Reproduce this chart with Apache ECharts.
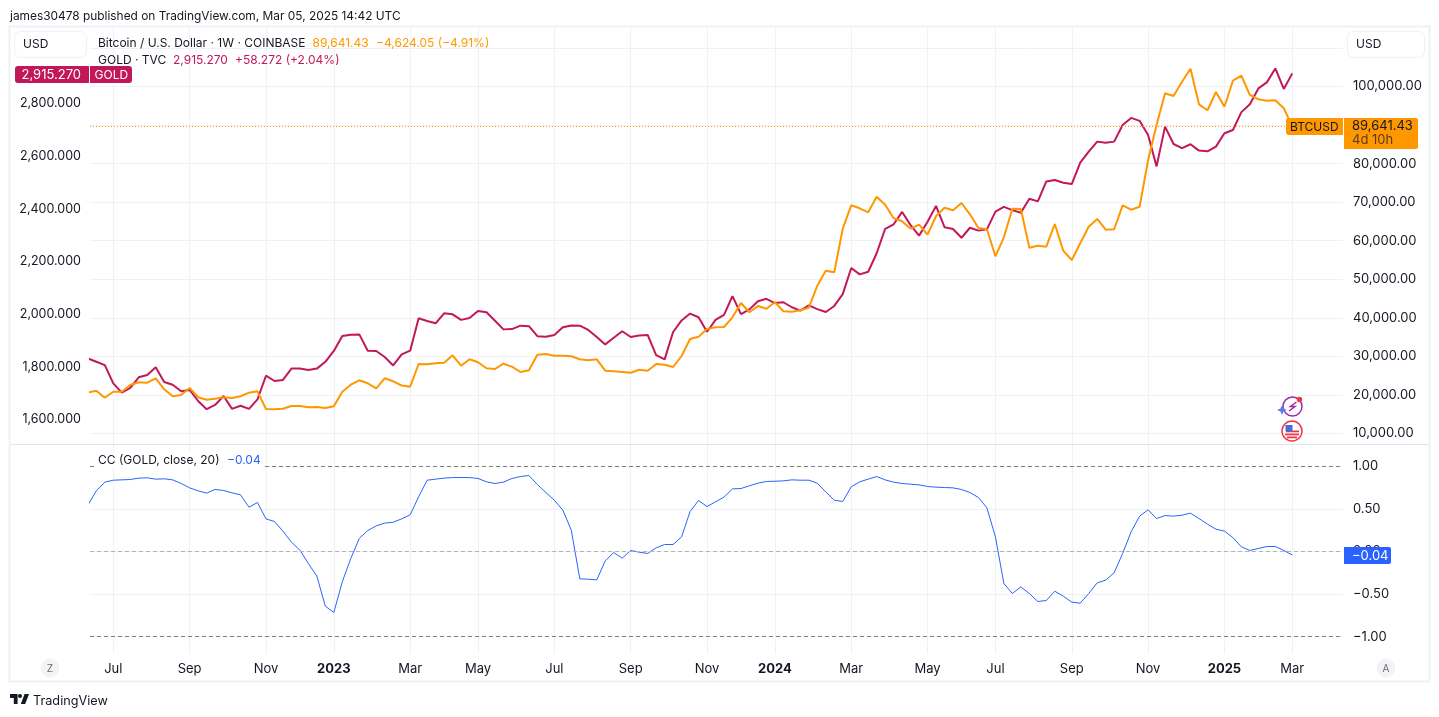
<!DOCTYPE html>
<html>
<head>
<meta charset="utf-8">
<script src="https://cdn.jsdelivr.net/npm/echarts@6/dist/echarts.min.js"></script>
<style>
  html, body { margin: 0; padding: 0; background: #fff; }
  #chart { width: 1439px; height: 717px; }
</style>
</head>
<body>
<div id="chart"></div>
<script>
// weekly closes, one value per week from late May 2022
var goldClose = [1833,1820,1807,1738,1703,1721,1761,1770,1799,1743,1733,1708,1713,1671,1640,1656,1690,1641,1653,1641,
  1677,1767,1747,1751,1794,1794,1789,1794,1820,1861,1918,1923,1924,1862,1861,1838,1806,1848,1862,1985,
  1975,1966,2004,2000,1979,1986,2013,2008,1976,1943,1944,1957,1955,1917,1915,1922,1951,1958,1957,1941,
  1914,1886,1911,1936,1914,1920,1922,1845,1829,1933,1977,2003,1989,1934,1979,1998,2069,2001,2019,2050,
  2059,2043,2046,2027,2014,2034,2020,2009,2032,2077,2176,2152,2162,2232,2325,2342,2389,2339,2299,2352,
  2412,2331,2324,2291,2329,2318,2323,2390,2408,2396,2386,2439,2429,2505,2510,2500,2495,2576,2618,2656,
  2652,2656,2719,2746,2735,2681,2562,2713,2647,2631,2646,2622,2619,2637,2688,2700,2768,2798,2858,2881,
  2934,2856,2915.27];
var btcClose = [20620,21090,19270,20830,20830,22570,23270,23170,24310,21450,19640,19970,21790,19380,18760,19020,19380,19200,19640,20570,
  20930,16340,16270,16420,17120,17120,16780,16860,16600,17040,20830,22650,23790,23010,21710,24310,23530,22440,22130,28020,
  27940,28200,28350,30270,27580,29240,28460,26900,26720,28090,27320,25940,26380,30430,30610,30170,30170,30010,29240,28980,
  29240,26280,26120,25940,25760,26540,26280,28020,27830,27240,30090,34500,35100,37100,37540,37610,40130,43840,41430,43060,
  42360,44020,41690,41580,41950,42620,48330,52220,51800,63110,69180,68400,67370,71410,69340,65810,65030,63110,64150,61560,
  66410,68560,67890,69780,66850,63300,62960,55950,60880,68300,68220,58180,58700,58440,64330,57410,54990,59330,63630,65630,
  62850,62960,69180,68040,68820,80930,90010,98240,97540,101250,104620,95380,93830,98570,94760,101500,102800,97800,96680,96320,
  96420,94350,89641.43];
var ccValues = [0.544,0.712,0.814,0.837,0.841,0.845,0.861,0.865,0.849,0.853,0.841,0.798,0.747,0.712,0.685,0.728,0.716,0.689,0.665,0.520,
  0.575,0.383,0.352,0.239,0.110,0.016,-0.141,-0.289,-0.642,-0.716,-0.356,-0.082,0.153,0.246,0.301,0.333,0.344,0.383,0.430,0.642,
  0.837,0.849,0.861,0.868,0.868,0.868,0.857,0.818,0.798,0.814,0.857,0.880,0.892,0.786,0.692,0.602,0.485,0.250,-0.321,-0.325,
  -0.333,-0.110,-0.012,-0.078,0.012,-0.008,-0.023,0.043,0.082,0.082,0.172,0.469,0.599,0.528,0.583,0.638,0.735,0.739,0.771,0.802,
  0.822,0.825,0.829,0.841,0.837,0.837,0.802,0.700,0.602,0.587,0.759,0.818,0.849,0.880,0.841,0.814,0.798,0.790,0.782,0.763,
  0.755,0.751,0.747,0.728,0.692,0.634,0.512,0.172,-0.376,-0.493,-0.415,-0.493,-0.587,-0.575,-0.466,-0.524,-0.595,-0.606,-0.493,-0.368,
  -0.336,-0.250,-0.023,0.231,0.415,0.489,0.387,0.422,0.415,0.426,0.450,0.387,0.321,0.262,0.239,0.164,0.055,0.012,0.035,0.059,
  0.059,0.012,-0.04];

var monthWeeks  = [3,12,21,29,38,46,55,64,73,81,90,99,107,116,125,134,142];
var monthLabels = ['Jul','Sep','Nov','2023','Mar','May','Jul','Sep','Nov','2024','Mar','May','Jul','Sep','Nov','2025','Mar'];
var goldTicks = [1600,1800,2000,2200,2400,2600,2800];
var btcGrid   = [10000,20000,30000,40000,50000,60000,70000,80000,90000,100000,110000];
var btcTicks  = [10000,20000,30000,40000,50000,60000,70000,80000,100000];
var ccTicks   = [-1,-0.5,0,0.5,1];

var fontsty = 'Inter';
var textCol = '#131722';
var gridCol = '#f0f1f4';
var orange = '#ff9800';
var pink = '#c2185b';
var blue = '#2962ff';

function withWeek(list) {
  return list.map(function (v, i) { return [i, v]; });
}
function money(v, digits) {
  return v.toLocaleString('en-US', { minimumFractionDigits: digits, maximumFractionDigits: digits });
}
function txt(x, y, s, color, size, extra) {
  var st = { text: s, fill: color || textCol, font: (size || 12) + 'px ' + fontsty, textVerticalAlign: 'middle', textAlign: 'left' };
  if (extra) { for (var k in extra) st[k] = extra[k]; }
  return { type: 'text', x: x, y: y, z: 20, silent: true, style: st };
}
function box(x, y, w, h, fill, r, stroke) {
  return { type: 'rect', z: 19, silent: true, shape: { x: x, y: y, width: w, height: h, r: r || 0 },
    style: { fill: fill, stroke: stroke || null, lineWidth: stroke ? 1 : 0 } };
}

var xShared = {
  type: 'value', min: 0.253, max: 147.98,
  axisLine: { show: false },
  axisTick: { show: false, customValues: monthWeeks },
  splitLine: { show: true, lineStyle: { color: gridCol, width: 1 } }
};

var graphics = [
  txt(10, 16, 'james30478 published on TradingView.com, Mar 05, 2025 14:42 UTC', textCol, 11.9),
  { type: 'rect', z: 18, silent: true, shape: { x: 9.5, y: 26.5, width: 1420, height: 655 }, style: { fill: null, stroke: gridCol, lineWidth: 2 } },
  { type: 'line', z: 18, silent: true, shape: { x1: 10, y1: 444.5, x2: 1429, y2: 444.5 }, style: { stroke: '#e0e3eb', lineWidth: 1 } },

  box(14.5, 31.5, 72, 26, '#fff', 6, gridCol),
  txt(23, 44.5, 'USD'),
  box(1347.5, 31.5, 77, 26, '#fff', 6, gridCol),
  txt(1356, 44.5, 'USD'),

  txt(98, 43.5, 'Bitcoin / U.S. Dollar \u00b7 1W \u00b7 COINBASE'),
  txt(312.5, 43.5, '89,641.43', orange),
  txt(376, 43.5, '\u22124,624.05 (\u22124.91%)', orange),
  txt(98, 60, 'GOLD \u00b7 TVC'),
  txt(173, 60, '2,915.270', pink),
  txt(235, 60, '+58.272 (+2.04%)', pink),

  box(15, 66, 74, 17, pink, [3, 0, 0, 3]),
  txt(21.5, 75, '2,915.270', '#fff', 13),
  box(90, 66, 42, 17, pink, [0, 3, 3, 0]),
  txt(94.5, 75, 'GOLD', '#fff'),

  box(1286, 118, 57, 17, orange, [3, 0, 0, 3]),
  txt(1290, 127, 'BTCUSD'),
  box(1344, 118, 74, 31, orange, [0, 2, 2, 0]),
  txt(1352, 126.5, '89,641.43', textCol, 13),
  txt(1352, 140, '4d 10h', 'rgba(19,23,34,0.72)', 13),

  box(97, 452, 165, 15, '#fff'),
  txt(98, 460.5, 'CC (GOLD, close, 20)'),
  txt(227, 460.5, '\u22120.04', blue),
  box(1344, 547, 47, 17, blue, [0, 2, 2, 0]),
  txt(1352, 556, '\u22120.04', '#fff', 13),

  // bottom corner buttons
  { type: 'circle', z: 19, silent: true, shape: { cx: 50, cy: 668, r: 9.5 }, style: { fill: '#f2f3f5' } },
  txt(50, 668.5, 'Z', '#6a6d78', 10, { textAlign: 'center' }),
  { type: 'circle', z: 19, silent: true, shape: { cx: 1386, cy: 668, r: 9.5 }, style: { fill: '#f2f3f5' } },
  txt(1386, 668.5, 'A', '#6a6d78', 10, { textAlign: 'center' }),

  // TradingView logo
  { type: 'polygon', z: 20, silent: true, shape: { points: [[17.6, 694], [10, 694], [10, 698], [13.8, 698], [13.8, 704], [17.6, 704]] }, style: { fill: textCol } },
  { type: 'polygon', z: 20, silent: true, shape: { points: [[25.2, 704], [20.8, 704], [24.6, 694], [29, 694]] }, style: { fill: textCol } },
  { type: 'circle', z: 20, silent: true, shape: { cx: 20, cy: 696, r: 2 }, style: { fill: textCol } },
  txt(33, 701, 'TradingView', textCol, 12.7),

  // event icons
  { type: 'circle', z: 20, silent: true, shape: { cx: 1292.5, cy: 406.5, r: 9.5 }, style: { fill: '#fff', stroke: '#9c27b0', lineWidth: 1.5 } },
  { type: 'polyline', z: 21, silent: true, shape: { points: [[1296.5, 402], [1290.5, 406.5], [1295, 406.5], [1289, 411]] }, style: { fill: null, stroke: '#9c27b0', lineWidth: 1.5 } },
  { type: 'polygon', z: 21, silent: true, shape: { points: [[1282, 405], [1283.5, 408.5], [1287, 410], [1283.5, 411.5], [1282, 415], [1280.5, 411.5], [1277, 410], [1280.5, 408.5]] }, style: { fill: '#5b7cf0' } },
  { type: 'circle', z: 21, silent: true, shape: { cx: 1299.5, cy: 399.5, r: 2.7 }, style: { fill: '#f23645' } },
  { type: 'circle', z: 20, silent: true, shape: { cx: 1292, cy: 431, r: 10 }, style: { fill: '#fff', stroke: '#f23645', lineWidth: 1.5 } },
  { type: 'rect', z: 21, silent: true, shape: { x: 1286, y: 430.5, width: 13, height: 1.8 }, style: { fill: '#f23645' } },
  { type: 'rect', z: 21, silent: true, shape: { x: 1285, y: 433.5, width: 14, height: 1.8 }, style: { fill: '#f23645' } },
  { type: 'rect', z: 21, silent: true, shape: { x: 1287, y: 436.5, width: 10, height: 1.8 }, style: { fill: '#f23645' } },
  { type: 'rect', z: 21, silent: true, shape: { x: 1285.5, y: 425, width: 7, height: 6.5 }, style: { fill: '#3f6fd8' } }
];

var myChart = echarts.init(document.getElementById('chart'), null, { renderer: 'canvas' });
myChart.setOption({
  animation: false,
  backgroundColor: '#fff',
  textStyle: { fontFamily: fontsty },
  grid: [
    { left: 90, right: 96, top: 27, height: 417 },
    { left: 90, right: 96, top: 445, height: 209 }
  ],
  xAxis: [
    Object.assign({}, xShared, { gridIndex: 0, axisLabel: { show: false, customValues: monthWeeks } }),
    Object.assign({}, xShared, { gridIndex: 1, axisLabel: {
      customValues: monthWeeks,
      margin: 9,
      fontSize: 13,
      fontFamily: fontsty,
      color: textCol,
      formatter: function (v) {
        var s = monthLabels[monthWeeks.indexOf(v)];
        return s.length == 4 ? '{year|' + s + '}' : s;
      },
      rich: { year: { fontWeight: 'bold', fontSize: 13, fontFamily: fontsty, color: textCol } }
    } })
  ],
  yAxis: [
    { type: 'value', gridIndex: 0, position: 'left', min: 1507.7, max: 3091.3,
      axisLine: { show: false }, axisTick: { show: false, customValues: goldTicks }, splitLine: { show: false },
      axisLabel: { customValues: goldTicks, margin: 9, fontSize: 12.5, fontFamily: fontsty, color: textCol,
        formatter: function (v) { return money(v, 3); } } },
    { type: 'value', gridIndex: 0, position: 'right', min: 7263, max: 115434,
      axisLine: { show: false }, axisTick: { show: false, customValues: btcGrid },
      splitLine: { show: true, lineStyle: { color: gridCol, width: 1 } },
      axisLabel: { customValues: btcTicks, margin: 10, align: 'left', fontSize: 13, fontFamily: fontsty, color: textCol,
        formatter: function (v) { return money(v, 2); } } },
    { type: 'value', gridIndex: 1, position: 'right', min: -1.203, max: 1.25,
      axisLine: { show: false }, axisTick: { show: false, customValues: ccTicks },
      splitLine: { show: true, lineStyle: { color: gridCol, width: 1 } },
      axisLabel: { customValues: ccTicks, margin: 10, align: 'left', fontSize: 13, fontFamily: fontsty, color: textCol,
        formatter: function (v) { return money(v, 2).replace('-', '\u2212'); } } }
  ],
  series: [
    { name: 'GOLD', type: 'line', xAxisIndex: 0, yAxisIndex: 0, data: withWeek(goldClose), showSymbol: false, z: 3,
      lineStyle: { color: pink, width: 2 } },
    { name: 'BTCUSD', type: 'line', xAxisIndex: 0, yAxisIndex: 1, data: withWeek(btcClose), showSymbol: false, z: 4,
      lineStyle: { color: orange, width: 2 },
      markLine: { silent: true, symbol: 'none', label: { show: false },
        lineStyle: { type: [1, 2], color: orange, width: 1 }, data: [{ yAxis: 89641.43 }] } },
    { name: 'CC', type: 'line', xAxisIndex: 1, yAxisIndex: 2, data: withWeek(ccValues), showSymbol: false, z: 4,
      lineStyle: { color: blue, width: 1 },
      markLine: { silent: true, symbol: 'none', label: { show: false }, data: [
        { yAxis: 1, lineStyle: { type: [4, 3], color: '#7f7f7f', width: 1 } },
        { yAxis: 0, lineStyle: { type: [4, 3], color: '#b4b4b4', width: 1 } },
        { yAxis: -1, lineStyle: { type: [4, 3], color: '#7f7f7f', width: 1 } }
      ] } }
  ],
  graphic: graphics
});
</script>
</body>
</html>
